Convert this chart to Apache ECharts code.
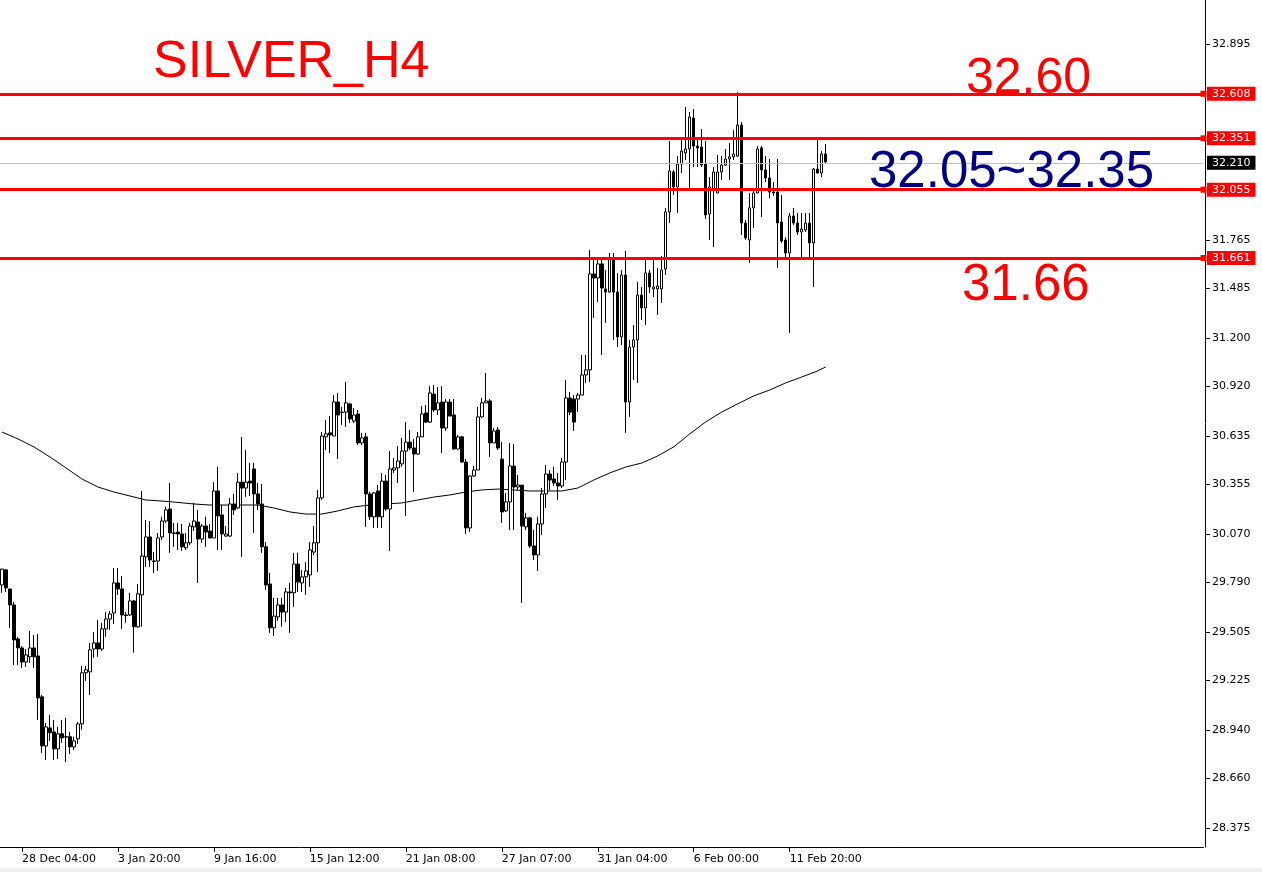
<!DOCTYPE html>
<html><head><meta charset="utf-8">
<script src="https://cdn.jsdelivr.net/npm/echarts@6/dist/echarts.min.js"></script>
<style>html,body{margin:0;padding:0;background:#fff;}#c{width:1262px;height:872px;}</style>
</head><body><div id="c"></div>
<script>
// ---- data ----
const timeLabels = ['28 Dec 04:00','3 Jan 20:00','9 Jan 16:00','15 Jan 12:00','21 Jan 08:00','27 Jan 07:00','31 Jan 04:00','6 Feb 00:00','11 Feb 20:00'];
const FIRST_LABEL_BAR = 5, LABEL_EVERY = 24, TOTAL_SLOTS = 301;

const opens = [29.776,29.863,29.753,29.661,29.465,29.413,29.332,29.362,29.413,29.367,29.131,28.848,28.952,28.929,28.831,28.918,28.901,28.901,28.843,28.889,
28.975,29.270,29.275,29.407,29.442,29.407,29.523,29.580,29.615,29.788,29.753,29.603,29.603,29.684,29.535,29.719,29.938,30.053,29.914,29.914,
30.053,30.145,30.214,30.076,30.081,30.070,29.990,30.019,30.111,30.139,30.041,30.116,30.087,30.047,30.318,30.180,30.058,30.058,30.243,30.220,
30.369,30.335,30.375,30.445,30.301,30.243,29.996,29.782,29.529,29.592,29.661,29.620,29.736,29.731,29.897,29.788,29.823,29.834,29.966,30.019,
30.278,30.630,30.653,30.635,30.831,30.773,30.773,30.820,30.721,30.762,30.595,30.630,30.301,30.169,30.318,30.169,30.375,30.214,30.439,30.451,
30.474,30.548,30.600,30.566,30.531,30.630,30.768,30.715,30.877,30.785,30.831,30.681,30.831,30.756,30.560,30.630,30.485,30.105,30.404,30.439,
30.745,30.826,30.837,30.595,30.670,30.502,30.203,30.255,30.462,30.341,30.352,30.111,30.163,30.001,29.949,30.128,30.301,30.416,30.387,30.364,
30.347,30.485,30.854,30.848,30.848,30.871,30.987,31.016,31.569,31.546,31.627,31.483,31.465,31.661,31.465,31.206,31.563,30.831,31.148,31.189,
31.448,31.373,31.575,31.483,31.483,31.483,31.598,31.927,32.157,32.071,32.203,32.267,32.290,32.468,32.307,32.301,32.203,31.915,32.053,32.036,
32.157,32.197,32.232,32.244,32.249,32.428,31.863,31.765,31.950,32.036,32.296,32.169,32.123,32.042,32.042,31.869,31.765,31.690,31.903,31.863,
31.811,31.823,31.863,31.748,32.174,32.151,32.261];
const highs = [29.868,29.868,29.753,29.678,29.477,29.424,29.407,29.511,29.488,29.494,29.142,28.981,29.027,28.998,28.958,28.998,29.010,28.929,28.901,28.986,
29.309,29.309,29.442,29.505,29.575,29.558,29.620,29.626,29.874,29.874,29.828,29.620,29.731,29.690,29.782,30.318,30.151,30.145,29.966,30.076,
30.169,30.226,30.364,30.134,30.134,30.128,30.076,30.134,30.249,30.209,30.128,30.169,30.128,30.369,30.457,30.237,30.116,30.278,30.301,30.422,
30.630,30.554,30.480,30.480,30.364,30.358,30.024,29.846,29.702,29.702,29.702,29.759,29.788,29.961,29.961,29.863,29.908,30.024,30.116,30.324,
30.658,30.727,30.750,30.871,30.883,30.803,30.946,30.826,30.797,30.785,30.653,30.653,30.312,30.312,30.352,30.422,30.410,30.548,30.508,30.577,
30.624,30.715,30.670,30.618,30.658,30.808,30.814,30.923,30.929,30.917,30.923,30.848,30.848,30.848,30.641,30.635,30.502,30.410,30.462,30.803,
30.854,30.999,30.848,30.681,30.687,30.600,30.307,30.595,30.589,30.410,30.352,30.192,30.169,30.093,30.169,30.335,30.468,30.439,30.457,30.422,
30.508,30.958,30.889,30.871,30.883,31.102,31.102,31.707,31.661,31.661,31.650,31.592,31.690,31.690,31.575,31.592,31.702,31.189,31.275,31.523,
31.494,31.650,31.592,31.650,31.604,31.673,31.950,32.336,32.169,32.249,32.347,32.532,32.503,32.520,32.359,32.405,32.336,32.128,32.186,32.255,
32.249,32.290,32.324,32.399,32.618,32.445,31.880,32.036,32.065,32.307,32.307,32.249,32.232,32.099,32.232,32.024,31.782,31.921,31.950,31.921,
31.921,31.921,31.921,32.180,32.342,32.278,32.319];
const lows = [29.731,29.736,29.529,29.315,29.315,29.298,29.304,29.327,29.298,28.998,28.808,28.767,28.877,28.767,28.773,28.866,28.755,28.802,28.825,28.860,
28.941,29.223,29.142,29.356,29.362,29.396,29.477,29.517,29.552,29.719,29.523,29.558,29.597,29.385,29.529,29.535,29.880,29.880,29.846,29.857,
30.036,30.134,29.961,29.996,29.978,29.972,29.978,30.007,30.087,29.788,30.019,29.996,30.047,30.047,29.978,29.978,30.053,30.053,30.180,30.214,
29.938,30.284,30.289,30.076,30.209,29.961,29.748,29.500,29.482,29.569,29.535,29.563,29.500,29.650,29.736,29.736,29.719,29.765,29.949,29.851,
30.266,30.554,30.537,30.635,30.502,30.698,30.687,30.710,30.710,30.583,30.583,30.111,30.151,30.105,30.105,30.105,30.203,29.972,30.422,30.364,
30.457,30.174,30.554,30.312,30.525,30.630,30.710,30.710,30.773,30.756,30.537,30.664,30.750,30.554,30.554,30.480,30.070,30.081,30.399,30.439,
30.739,30.826,30.514,30.595,30.554,30.134,30.197,30.093,30.093,30.324,29.673,30.093,29.990,29.920,29.857,30.064,30.220,30.324,30.347,30.266,
30.335,30.381,30.756,30.664,30.773,30.871,30.941,30.946,31.315,31.408,31.102,31.287,31.459,31.189,31.148,31.160,30.653,30.745,30.958,30.941,
31.304,31.275,31.459,31.436,31.333,31.402,31.563,31.863,32.024,31.921,32.151,32.226,32.065,32.186,32.186,32.186,31.886,31.765,31.725,32.036,
32.111,32.192,32.111,32.226,32.244,31.794,31.765,31.632,31.834,32.036,31.898,32.099,32.007,32.019,31.604,31.748,31.650,31.229,31.852,31.794,
31.667,31.811,31.667,31.494,32.151,32.128,32.209];
const closes = [29.868,29.759,29.661,29.459,29.413,29.332,29.373,29.413,29.362,29.125,28.848,28.958,28.924,28.831,28.918,28.895,28.899,28.843,28.877,28.975,
29.270,29.287,29.402,29.442,29.407,29.523,29.580,29.609,29.788,29.753,29.603,29.600,29.684,29.535,29.725,29.943,30.053,29.920,29.912,30.047,
30.145,30.209,30.076,30.073,30.070,29.996,30.019,30.116,30.145,30.041,30.116,30.081,30.047,30.318,30.174,30.070,30.070,30.243,30.209,30.369,
30.335,30.369,30.364,30.301,30.243,29.996,29.776,29.529,29.597,29.661,29.620,29.736,29.731,29.897,29.793,29.823,29.857,29.978,30.019,30.278,
30.635,30.647,30.641,30.831,30.756,30.770,30.826,30.733,30.756,30.595,30.624,30.301,30.169,30.307,30.169,30.375,30.214,30.445,30.451,30.491,
30.548,30.600,30.566,30.531,30.630,30.762,30.715,30.883,30.785,30.826,30.681,30.831,30.750,30.560,30.630,30.485,30.105,30.404,30.439,30.745,
30.826,30.837,30.595,30.664,30.566,30.197,30.255,30.462,30.341,30.352,30.116,30.163,30.001,29.949,30.128,30.301,30.416,30.381,30.364,30.347,
30.485,30.854,30.773,30.715,30.871,30.987,31.016,31.569,31.546,31.627,31.488,31.465,31.661,31.465,31.206,31.563,30.831,31.148,31.189,31.448,
31.373,31.575,31.494,31.494,31.500,31.592,31.927,32.163,32.071,32.203,32.278,32.290,32.474,32.307,32.296,32.197,31.909,32.071,32.157,32.157,
32.197,32.232,32.244,32.261,32.428,31.863,31.777,31.950,32.036,32.290,32.169,32.123,32.042,32.036,31.863,31.759,31.690,31.903,31.863,31.811,
31.828,31.863,31.748,32.174,32.151,32.261,32.215];

// moving average: [bar index, value]
const maPoints = [[0,30.658],[4,30.618],[8,30.572],[12,30.514],[16,30.451],[20,30.387],[24,30.341],[28,30.312],[32,30.289],[36,30.266],
[40,30.260],[44,30.252],[48,30.243],[52,30.237],[56,30.237],[60,30.237],[64,30.237],[68,30.220],[72,30.197],[76,30.185],
[80,30.185],[84,30.203],[88,30.226],[92,30.237],[96,30.243],[100,30.249],[104,30.266],[108,30.283],[112,30.295],[116,30.312],
[120,30.324],[124,30.329],[128,30.324],[132,30.318],[136,30.318],[140,30.318],[144,30.335],[148,30.381],[152,30.422],[156,30.456],
[160,30.479],[164,30.520],[168,30.572],[172,30.647],[176,30.716],[180,30.773],[184,30.820],[188,30.866],[192,30.900],[196,30.941],
[200,30.975],[204,31.010],[206,31.033]];

const levels = [32.608, 32.351, 32.055, 31.661];
const bidPrice = 32.210;
const yTicks = [28.375,28.660,28.940,29.225,29.505,29.790,30.070,30.355,30.635,30.920,31.200,31.485,31.765,32.895];
const Y_MIN = 28.2654, Y_MAX = 33.1487;

// ---- build ----
const categories = [];
for (let i = 0; i < TOTAL_SLOTS; i++) {
  let s = '';
  if (i >= FIRST_LABEL_BAR && (i - FIRST_LABEL_BAR) % LABEL_EVERY === 0) {
    const j = (i - FIRST_LABEL_BAR) / LABEL_EVERY;
    if (j < timeLabels.length) s = timeLabels[j];
  }
  categories.push(s);
}
const candleData = opens.map((o, i) => [o, closes[i], lows[i], highs[i]]);
const FONT = 'DejaVu Sans';
const showLabel = (idx, val) => val !== '';

const chart = echarts.init(document.getElementById('c'), null, {renderer: 'canvas'});
chart.setOption({
  animation: false,
  backgroundColor: '#ffffff',
  grid: {left: -0.5, top: 0, width: 1204, bottom: 25, containLabel: false},
  xAxis: {
    type: 'category', data: categories, boundaryGap: true,
    axisLine: {show: true, lineStyle: {color: '#000', width: 1}},
    axisTick: {show: true, alignWithLabel: true, interval: showLabel, length: 5, lineStyle: {color: '#000'}},
    axisLabel: {show: true, interval: showLabel, align: 'left', margin: 7, color: '#000', fontFamily: FONT, fontSize: 11},
    splitLine: {show: false}
  },
  yAxis: {
    type: 'value', position: 'right', offset: 1.5, min: Y_MIN, max: Y_MAX, scale: true,
    axisLine: {show: true, lineStyle: {color: '#000', width: 1}},
    axisTick: {show: true, customValues: yTicks, length: 5, lineStyle: {color: '#000'}},
    axisLabel: {show: true, customValues: yTicks, formatter: v => Number(v).toFixed(3), margin: 7, color: '#000', fontFamily: FONT, fontSize: 11},
    splitLine: {show: false}
  },
  series: [
    {
      type: 'line', data: maPoints, symbol: 'none', showSymbol: false, silent: true, z: 1,
      lineStyle: {color: '#000', width: 1},
      markLine: {
        silent: true, symbol: ['none', 'none'], animation: false, precision: 3,
        lineStyle: {color: '#c0c0c0', width: 1, type: 'solid'},
        label: {show: true, position: 'end', distance: 3.5, formatter: p => Number(p.value).toFixed(3),
          color: '#fff', backgroundColor: '#000', padding: [1, 5, 1, 5], fontSize: 11, lineHeight: 12, fontFamily: FONT},
        data: [{yAxis: bidPrice}]
      }
    },
    {
      type: 'candlestick', data: candleData, barWidth: 3, z: 2, silent: true,
      itemStyle: {color: '#ffffff', color0: '#000000', borderColor: '#000000', borderColor0: '#000000', borderWidth: 1},
      markLine: {
        silent: true, animation: false, precision: 3, symbol: ['none', 'rect'], symbolSize: 6,
        lineStyle: {color: '#ff0000', width: 3, type: 'solid'},
        label: {show: true, position: 'end', distance: 3.5, formatter: p => Number(p.value).toFixed(3),
          color: '#fff', backgroundColor: '#ff0000', padding: [1, 5, 1, 5], fontSize: 11, lineHeight: 12, fontFamily: FONT},
        data: levels.map(v => ({yAxis: v}))
      }
    }
  ],
  graphic: [
    {type: 'rect', z: -10, shape: {x: 0, y: 868, width: 1262, height: 4}, style: {fill: '#f0f0f0'}},
    {type: 'text', x: 153, y: 63, z: 100, style: {text: 'SILVER_H4', fill: '#ff0000', fontSize: 52, fontFamily: 'Liberation Sans', verticalAlign: 'middle', textVerticalAlign: 'middle'}},
    {type: 'text', x: 966, y: 79, z: 100, style: {text: '32.60', fill: '#ff0000', fontSize: 50, fontFamily: 'Liberation Sans', verticalAlign: 'middle', textVerticalAlign: 'middle'}},
    {type: 'text', x: 869, y: 173, z: 100, style: {text: '32.05~32.35', fill: '#000080', fontSize: 51, fontFamily: 'Liberation Sans', verticalAlign: 'middle', textVerticalAlign: 'middle'}},
    {type: 'text', x: 962, y: 286, z: 100, style: {text: '31.66', fill: '#ff0000', fontSize: 51, fontFamily: 'Liberation Sans', verticalAlign: 'middle', textVerticalAlign: 'middle'}}
  ]
});
</script></body></html>
